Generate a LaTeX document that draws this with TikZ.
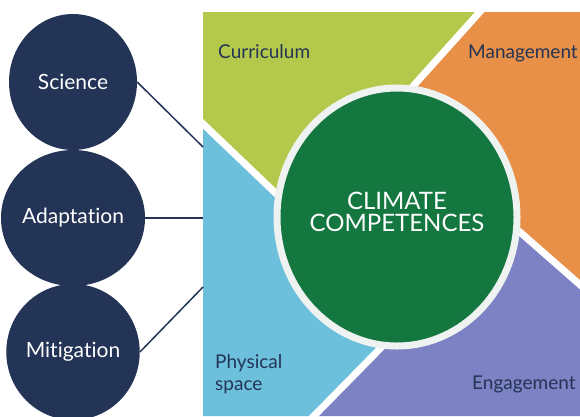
\documentclass[tikz,border=0pt]{standalone}
\usepackage{fontspec}
\setmainfont[Ligatures=NoCommon]{Lato}
\usepackage{tikz}
\usetikzlibrary{positioning,shapes.geometric}
\definecolor{navy}{HTML}{233456}
\definecolor{curgreen}{HTML}{B4C94B}
\definecolor{mgtorange}{HTML}{E88F48}
\definecolor{physblue}{HTML}{6CC0DC}
\definecolor{engpurple}{HTML}{7C82C3}
\definecolor{compgreen}{HTML}{13773F}
\definecolor{ringwhite}{HTML}{EEF2F0}
\tikzstyle{theme} = [ellipse, fill=navy, text=white, minimum width=128pt, minimum height=136pt, inner sep=0pt, font=\fontsize{21}{24}\selectfont]
\tikzstyle{gap} = [draw=white, line width=7pt]
\tikzstyle{areatext} = [text=navy, anchor=west, align=left, inner sep=0pt, font=\fontsize{19}{22}\selectfont]
\tikzstyle{link} = [draw=navy, line width=1.5pt]

\begin{document}
\begin{tikzpicture}[x=1pt,y=-1pt]
\useasboundingbox (0,0) rectangle (580,416);
% the four areas
\fill[curgreen] (203,12) -- (480,12) -- (380,123) -- (310,226) -- (203,124) -- cycle;
\fill[mgtorange] (480,12) -- (580,12) -- (580,285) -- (480,197) -- (380,123) -- cycle;
\fill[engpurple] (580,285) -- (580,416) -- (314,416) -- (420,308) -- (480,197) -- cycle;
\fill[physblue] (203,124) -- (310,226) -- (420,308) -- (314,416) -- (203,416) -- cycle;
\draw[gap] (486,5) -- (380,123);
\draw[gap] (198,119) -- (310,226);
\draw[gap] (308,422) -- (420,308);
\draw[gap] (586,290) -- (480,197);
% pillars
\node[theme] (sci) at (73,82) {Science};
\node[theme] (ada) at (73,218) {Adaptation};
\node[theme] (mit) at (73,352) {Mitigation};
\coordinate (sci-end) at (203,147);
\coordinate (ada-end) at (203,218);
\coordinate (mit-end) at (203,287);
\draw[link] (sci.east) -- (sci-end);
\draw[link] (ada.east) -- (ada-end);
\draw[link] (mit.east) -- (mit-end);
% centre
\node[ellipse, fill=compgreen, draw=ringwhite, line width=7pt, minimum width=240pt, minimum height=258pt, inner sep=0pt] (comp) at (397,217) {};
\node[text=white, align=center, font=\fontsize{24}{22}\selectfont] (comptext) at ([yshift=5pt]comp.center) {CLIMATE\\COMPETENCES};
% area names
\node[areatext] (curr) at (218,52) {Curriculum};
\node[areatext] (mgmt) at (468,53) {Management};
\node[areatext] (phys) at (215,374) {Physical\\space};
\node[areatext] (eng) at (472,384) {Engagement};
\end{tikzpicture}
\end{document}
